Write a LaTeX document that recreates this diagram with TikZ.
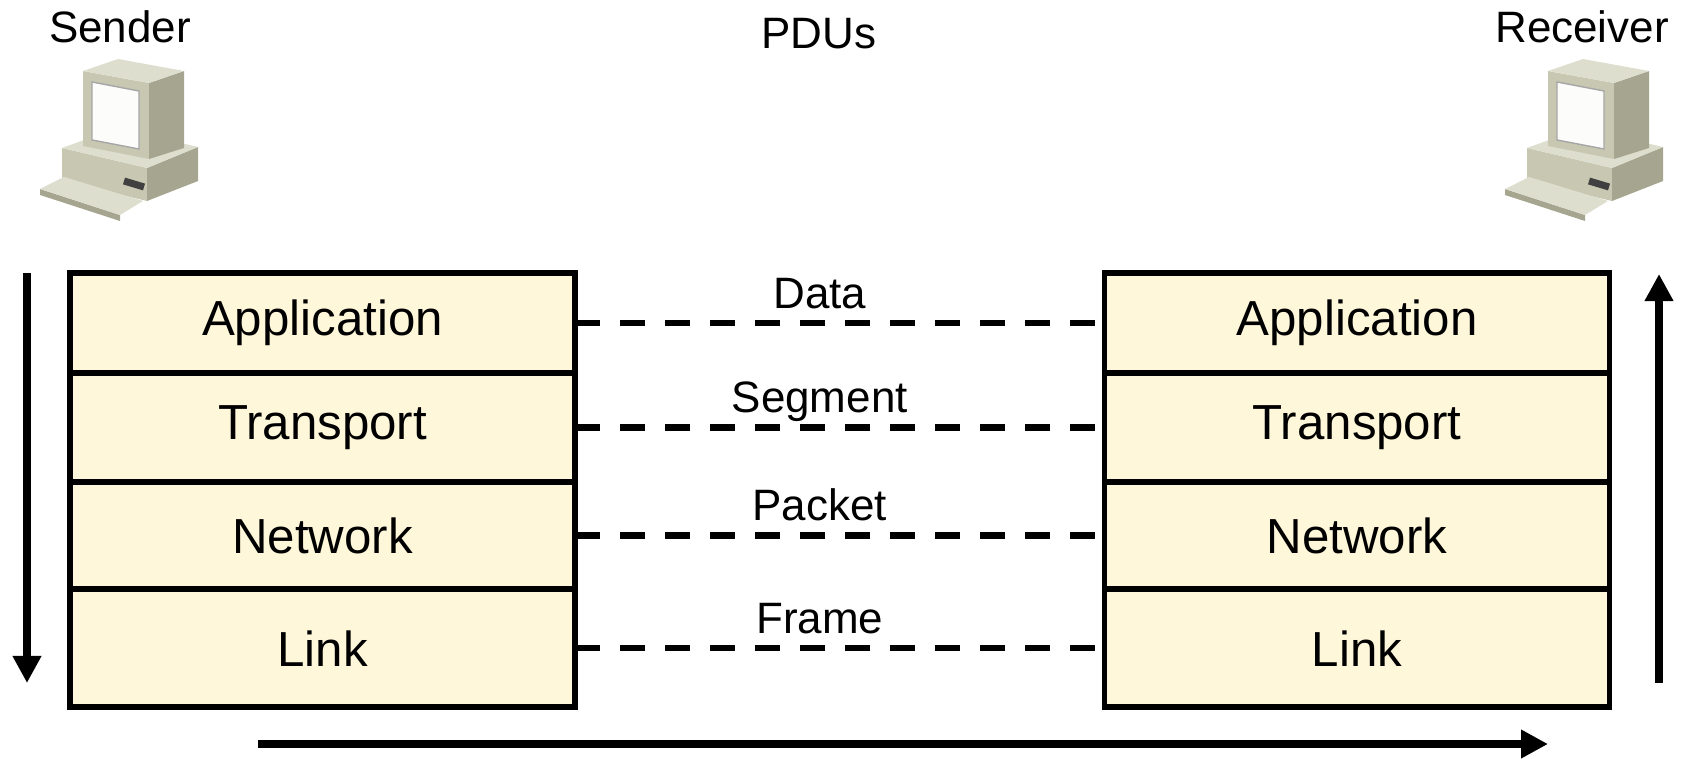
\documentclass[tikz,border=0pt]{standalone}
\usepackage{fontspec}
\setmainfont{Liberation Sans}
\usetikzlibrary{positioning}
\usetikzlibrary{arrows.meta}

\definecolor{layerfill}{RGB}{254,247,218}
\definecolor{pcfront}{RGB}{200,200,178}
\definecolor{pcside}{RGB}{166,166,144}
\definecolor{pctop}{RGB}{222,222,206}
\definecolor{pcscreen}{RGB}{252,252,250}

\begin{document}
\begin{tikzpicture}[x=0.01cm, y=-0.01cm,
            layer/.style = {draw, line width=1.6pt, fill=layerfill,
                minimum width=5.05cm, minimum height=1.085cm,
                outer sep=0pt, font=\fontsize{14}{16}\selectfont},
            title/.style = {font=\fontsize{12.5}{15}\selectfont},
            pdulabel/.style = {title, text depth=0pt, above=0pt, xshift=-2mm},
            pdu/.style = {line width=1.8pt, dash pattern=on 0.25cm off 0.2cm},
            flow/.style = {line width=2.1pt,
                -{Triangle[length=0.27cm, width=0.27cm]}},
            pc/.pic = {
                % base
                \fill[pcfront] (22,93) -- (107,113) -- (107,146) -- (22,126) -- cycle;
                \fill[pcside] (107,113) -- (158,92) -- (158,126) -- (107,146) -- cycle;
                \fill[pctop] (22,93) -- (77,73) -- (158,92) -- (107,113) -- cycle;
                \draw[line width=2pt, black!75] (84,126) -- (104,132);
                % keyboard
                \fill[pcside] (0,134) -- (80,160) -- (80,166) -- (0,140) -- cycle;
                \fill[pctop] (0,134) -- (24,122) -- (103,146) -- (80,160) -- cycle;
                % monitor
                \fill[pcfront] (43,16) -- (109,28) -- (109,104) -- (43,91) -- cycle;
                \fill[pcside] (109,28) -- (144,16) -- (144,93) -- (109,104) -- cycle;
                \fill[pctop] (43,16) -- (78,4) -- (144,16) -- (109,28) -- cycle;
                \fill[pcscreen, draw=black!35, line width=0.4pt]
                    (52,27) -- (99,36) -- (99,94) -- (52,85) -- cycle;
            }]
            \useasboundingbox (0,0) rectangle (1686,758);

            % hosts
            \node[title] (snd) at (120,27) {Sender};
            \node[title] (pdus) at (819,34) {PDUs};
            \node[title] (rcv) at (1582,27) {Receiver};
            \pic (spc) at (40,55) {pc};
            \pic (rpc) at (1505,55) {pc};

            % sender stack
            \node[layer, minimum height=1.0cm] (s1) at (322.5,323) {Application};
            \node[layer, minimum height=1.09cm, below=0pt of s1] (s2) {Transport};
            \node[layer, minimum height=1.07cm, below=0pt of s2] (s3) {Network};
            \node[layer, minimum height=1.18cm, below=0pt of s3] (s4) {Link};

            % receiver stack
            \node[layer, minimum height=1.0cm] (r1) at (1357,323) {Application};
            \node[layer, minimum height=1.09cm, below=0pt of r1] (r2) {Transport};
            \node[layer, minimum height=1.07cm, below=0pt of r2] (r3) {Network};
            \node[layer, minimum height=1.18cm, below=0pt of r3] (r4) {Link};

            \path[pdu]
                (s1) edge node[pdulabel] {Data} (r1)
                (s2) edge node[pdulabel] {Segment} (r2)
                (s3) edge node[pdulabel] {Packet} (r3)
                (s4) edge node[pdulabel] {Frame} (r4);

            % directions
            \coordinate (dtop) at (27,273);
            \coordinate (dbot) at (27,683);
            \coordinate (utop) at (1659,274);
            \coordinate (ubot) at (1659,683);
            \coordinate (hl) at (258,744);
            \coordinate (hr) at (1548,744);
            \draw[flow] (dtop) -- (dbot);
            \draw[flow] (ubot) -- (utop);
            \draw[flow] (hl) -- (hr);
        \end{tikzpicture}
\end{document}
